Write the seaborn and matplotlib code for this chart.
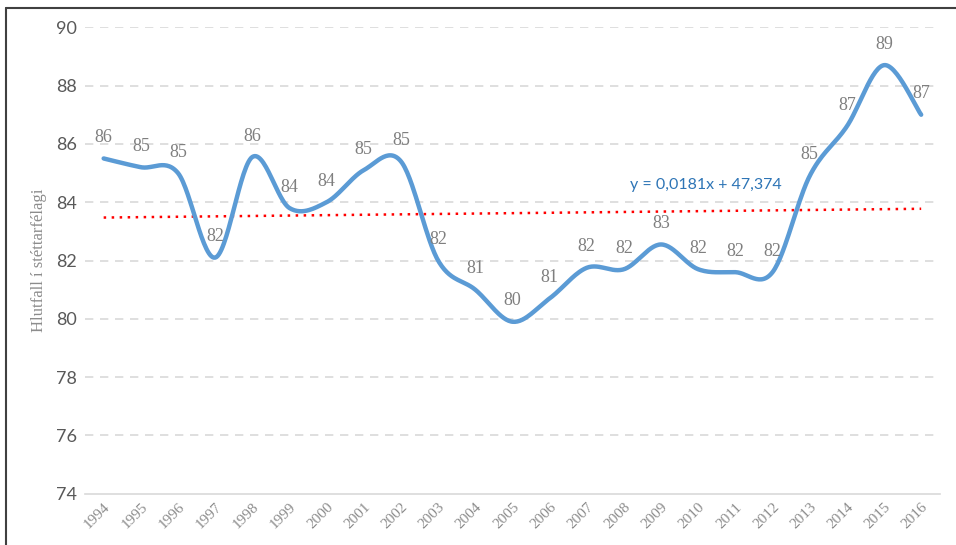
import numpy as np
import pandas as pd
import matplotlib.pyplot as plt
import seaborn as sns
from matplotlib.lines import Line2D

# data
years = list(range(1994, 2017))
share = [85.5, 85.2, 85.0, 82.1, 85.55, 83.8, 84.0, 85.1, 85.4, 82.0, 81.0, 79.9,
         80.7, 81.75, 81.7, 82.55, 81.7, 81.6, 81.6, 84.9, 86.6, 88.7, 87.0]
y_ticks = [74, 76, 78, 80, 82, 84, 86, 88, 90]
equation = "y = 0,0181x + 47,374"
y_label = "Hlutfall í stéttarfélagi"

df = pd.DataFrame({"year": years, "share": share})


def smooth(x, y, n=30):
    # Bezier smoothing like a spreadsheet "smoothed line"
    x = np.asarray(x, float)
    y = np.asarray(y, float)
    xs, ys = [], []
    for i in range(len(x) - 1):
        i0 = max(i - 1, 0)
        i3 = min(i + 2, len(x) - 1)
        p0 = np.array([x[i0], y[i0]])
        p1 = np.array([x[i], y[i]])
        p2 = np.array([x[i + 1], y[i + 1]])
        p3 = np.array([x[i3], y[i3]])
        c1 = p1 + (p2 - p0) / 6
        c2 = p2 - (p3 - p1) / 6
        t = np.linspace(0, 1, n, endpoint=(i == len(x) - 2))[:, None]
        pts = ((1 - t) ** 3) * p1 + 3 * ((1 - t) ** 2) * t * c1 + 3 * (1 - t) * t ** 2 * c2 + t ** 3 * p2
        xs.extend(pts[:, 0])
        ys.extend(pts[:, 1])
    return pd.DataFrame({"year": xs, "share": ys})


sns.set_style("white")
serif = ["Liberation Serif", "DejaVu Serif"]
sans = ["Lato", "DejaVu Sans"]

fig = plt.figure(figsize=(9.56, 5.45), dpi=100)
ax = fig.add_axes([0.089, 0.094, 0.894, 0.856])

# trendline
sns.regplot(data=df, x="year", y="share", scatter=False, ci=None, ax=ax, truncate=True,
            line_kws=dict(color="#ff0000", lw=1.8, ls=(0, (1, 2.2))))

# smoothed series
sns.lineplot(data=smooth(df["year"], df["share"]), x="year", y="share", sort=False,
             estimator=None, color="#5b9bd5", lw=3.2, ax=ax, zorder=3)

# data labels
for yr, v in zip(years, share):
    ax.annotate(f"{round(v):d}", (yr, v), xytext=(0, 9), textcoords="offset points",
                ha="center", va="bottom", fontsize=13, color="#7f7f7f", family=serif)

ax.text(2010.2, 84.6, equation, ha="center", va="center", fontsize=11.5,
        color="#2e75b6", family=sans)

ax.set_xlim(1993.5, 2016.5)
ax.set_ylim(74, 90)
ax.set_yticks(y_ticks)
ax.set_xticks(years)
ax.set_xticklabels([str(y) for y in years], rotation=45, ha="right",
                   rotation_mode="anchor", fontsize=11, color="#8c8c8c", family=serif)
for lab in ax.get_yticklabels():
    lab.set_fontsize(13)
    lab.set_color("#595959")
    lab.set_family(sans)
ax.tick_params(axis="both", length=0)
ax.tick_params(axis="x", pad=5)
ax.tick_params(axis="y", pad=6)
ax.set_xlabel("")
ax.set_ylabel(y_label, fontsize=12, color="#8c8c8c", family=serif, labelpad=6)

for y in y_ticks[1:]:
    ax.axhline(y, color="#d9d9d9", lw=1.2, ls=(0, (5, 4)), zorder=0)
for s in ["top", "right", "left"]:
    ax.spines[s].set_visible(False)
ax.spines["bottom"].set_color("#d9d9d9")
ax.spines["bottom"].set_linewidth(1.2)

# frame edges on top and left of the image
fig.add_artist(Line2D([0.006, 1.0], [0.985, 0.985], color="#404040", lw=1.5))
fig.add_artist(Line2D([0.006, 0.006], [0.0, 0.985], color="#404040", lw=1.5))

fig.savefig("out.png", dpi=100)
